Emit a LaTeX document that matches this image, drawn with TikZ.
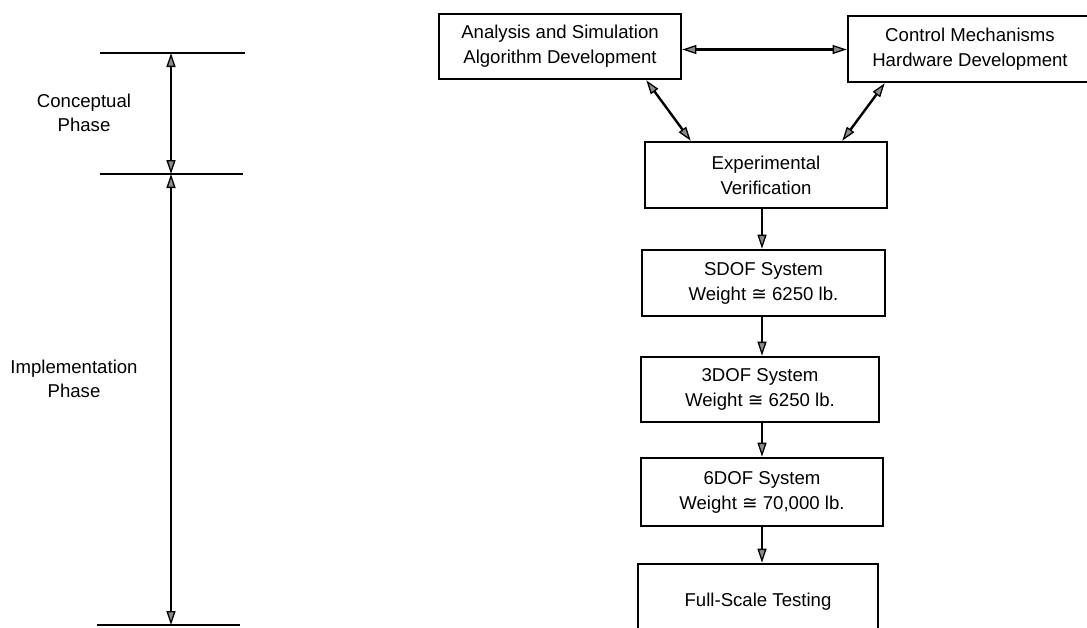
\documentclass[tikz,border=0pt]{standalone}
\usepackage{fontspec}
\setmainfont{Liberation Sans}
\newfontfamily\symf{DejaVu Sans}
\usetikzlibrary{arrows.meta,calc}
\newcommand{\cng}{{\symf ≅}}
\begin{document}
\begin{tikzpicture}[x=1pt,y=-1pt,
  box/.style={draw=black, line width=2.6pt, align=center, inner sep=0pt,
    font=\fontsize{18.6}{25}\selectfont},
  lbl/.style={align=center, inner sep=0pt, font=\fontsize{18.6}{24}\selectfont},
  tip/.style={line width=2.4pt, black},
  one/.style={tip, -{Triangle[length=14pt,width=9pt,fill=black!45,line width=1.3pt]}},
  two/.style={tip, {Triangle[length=14pt,width=9pt,fill=black!45,line width=1.3pt]}-{Triangle[length=14pt,width=9pt,fill=black!45,line width=1.3pt]}},
  rule/.style={line width=2.6pt, black}]
\useasboundingbox (0,0) rectangle (1087,627);

% left phase scale
\coordinate (t1l) at (100,53);  \coordinate (t1r) at (245,53);
\coordinate (t2l) at (100,174); \coordinate (t2r) at (243,174);
\coordinate (t3l) at (97,625);  \coordinate (t3r) at (240,625);
\coordinate (a1) at (171,53);
\coordinate (a2) at (171,174);
\coordinate (a3) at (171,625);
\draw[rule] (t1l) -- (t1r);
\draw[rule] (t2l) -- (t2r);
\draw[rule] (t3l) -- (t3r);
\draw[two] (a1) -- (a2);
\draw[two] (a2) -- (a3);
\node[lbl] (conc) at (84,113) {Conceptual\\Phase};
\node[lbl] (impl) at (74,379) {Implementation\\Phase};

% boxes
\node[box, minimum width=242pt, minimum height=65pt] (ana) at (560,46.5)
  {Analysis and Simulation\\Algorithm Development};
\node[box, minimum width=244pt, minimum height=66pt] (ctl) at (970,49)
  {Control Mechanisms\\Hardware Development};
\node[box, minimum width=242pt, minimum height=66pt] (exp) at (766,175)
  {Experimental\\Verification};
\node[box, minimum width=243pt, minimum height=66pt] (sdof) at (763.5,283)
  {SDOF System\\Weight \cng\ 6250 lb.};
\node[box, minimum width=238pt, minimum height=65pt] (tdof) at (760,389.5)
  {3DOF System\\Weight \cng\ 6250 lb.};
\node[box, minimum width=242pt, minimum height=68pt] (sixdof) at (762,492)
  {6DOF System\\Weight \cng\ 70,000 lb.};
\node[box, minimum width=240pt, minimum height=76pt] (full) at (758,602)
  {Full-Scale Testing};

% connectors
\draw[two] ([yshift=-3pt]ana.east) -- ([yshift=-3pt]ana.east -| ctl.west);
\draw[two] ([xshift=-36pt]ana.south east) -- ([xshift=47pt]exp.north west);
\draw[two] ([xshift=38pt]ctl.south west) -- ([xshift=-46pt]exp.north east);
\coordinate (vx) at (762,0);
\draw[one] (exp.south -| vx) -- (sdof.north -| vx);
\draw[one] (sdof.south -| vx) -- (tdof.north -| vx);
\draw[one] (tdof.south -| vx) -- (sixdof.north -| vx);
\draw[one] (sixdof.south -| vx) -- (full.north -| vx);
\end{tikzpicture}
\end{document}
